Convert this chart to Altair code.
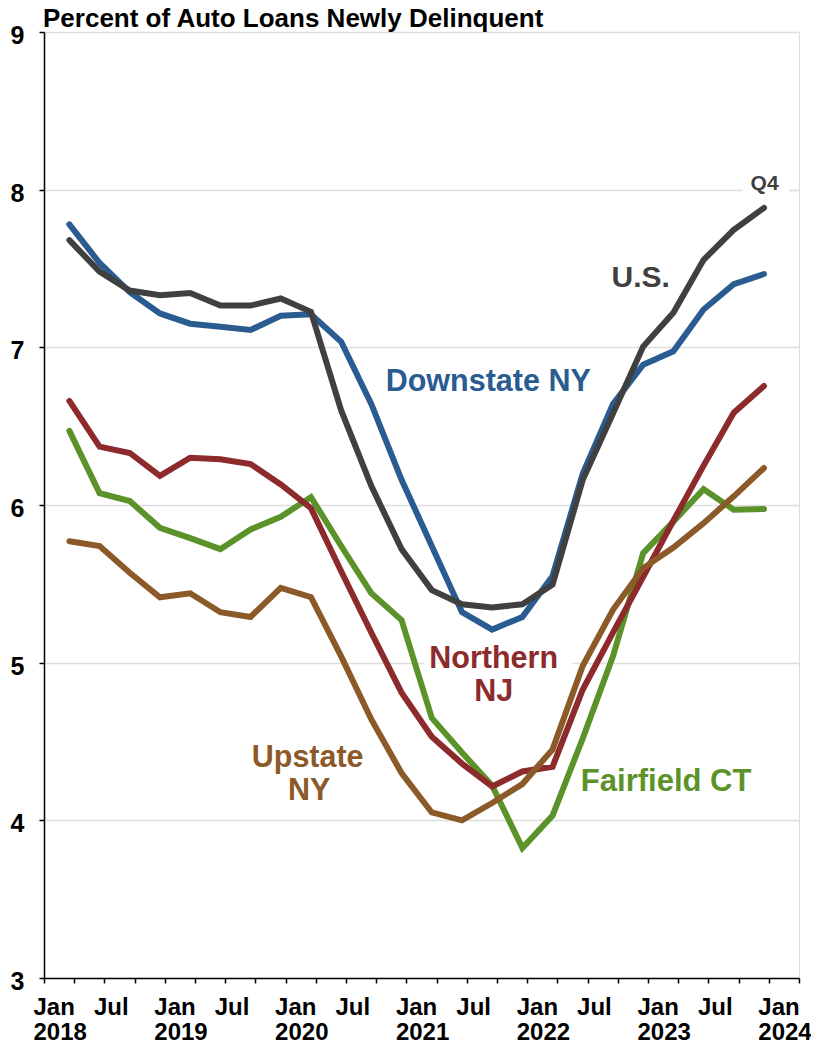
import json
import altair as alt
import pandas as pd

# ---------------- data ----------------
quarters = [f"{y}Q{q}" for y in range(2018, 2024) for q in range(1, 5)]

us = [7.68, 7.48, 7.36, 7.33, 7.345, 7.265, 7.265, 7.31, 7.225, 6.60, 6.12, 5.72,
      5.46, 5.37, 5.35, 5.37, 5.495, 6.16, 6.58, 7.005, 7.22, 7.555, 7.745, 7.885]
downstate_ny = [7.78, 7.535, 7.35, 7.215, 7.15, 7.13, 7.11, 7.20, 7.21, 7.035, 6.64, 6.16,
                5.74, 5.32, 5.21, 5.29, 5.55, 6.20, 6.64, 6.89, 6.975, 7.24, 7.40, 7.465]
northern_nj = [6.66, 6.37, 6.33, 6.185, 6.30, 6.29, 6.26, 6.13, 5.98, 5.58, 5.19, 4.81,
               4.53, 4.36, 4.215, 4.31, 4.34, 4.83, 5.19, 5.545, 5.90, 6.25, 6.585, 6.755]
fairfield_ct = [6.47, 6.075, 6.025, 5.855, 5.79, 5.72, 5.845, 5.925, 6.05, 5.74, 5.44, 5.27,
                4.65, 4.43, 4.22, 3.825, 4.03, 4.52, 5.04, 5.695, 5.895, 6.10, 5.97, 5.975]
upstate_ny = [5.77, 5.74, 5.57, 5.415, 5.44, 5.32, 5.29, 5.475, 5.415, 5.04, 4.64, 4.30,
              4.05, 4.00, 4.11, 4.23, 4.45, 4.98, 5.335, 5.60, 5.73, 5.885, 6.055, 6.235]

# drawing order: bottom first
series_names = ["Fairfield CT", "Northern NJ", "Upstate NY", "Downstate NY", "U.S."]
series_values = [fairfield_ct, northern_nj, upstate_ny, downstate_ny, us]
series_colors = ["#5B9229", "#8C2A2C", "#8C5A29", "#2A5C91", "#404040"]

x_tick_labels = [["Jan", "2018"], ["Jul"], ["Jan", "2019"], ["Jul"], ["Jan", "2020"], ["Jul"],
                 ["Jan", "2021"], ["Jul"], ["Jan", "2022"], ["Jul"], ["Jan", "2023"], ["Jul"],
                 ["Jan", "2024"]]
y_ticks = [3, 4, 5, 6, 7, 8, 9]

label_texts = ["Downstate NY", "U.S.", "Q4", "Northern", "NJ", "Upstate", "NY", "Fairfield CT"]
label_colors = ["#2A5C91", "#404040", "#404040", "#8C2A2C", "#8C2A2C", "#8C5A29", "#8C5A29", "#5B9229"]

title_text = "Percent of Auto Loans Newly Delinquent"

# ---------------- layout / positions ----------------
POINT_OFFSET = 0.84          # points sit late in each quarter slot
label_x = [14.71, 19.76, 23.86, 14.89, 14.89, 8.73, 8.78, 20.60]
label_y = [6.72, 7.385, 8.0, 4.969, 4.76, 4.336, 4.13, 4.183]
label_sizes = [30.5, 30, 21, 30.5, 30.5, 30.5, 30.5, 31]
# white patches that break grid lines behind labels
gap_x1 = [23.13, 12.6]
gap_x2 = [24.67, 17.5]
gap_y1 = [7.97, 4.97]
gap_y2 = [8.03, 5.03]

FONT = "Liberation Sans"

rows = []
for name, vals in zip(series_names, series_values):
    for i, v in enumerate(vals):
        rows.append({"series": name, "quarter": quarters[i], "q": i + POINT_OFFSET, "value": v})
df = pd.DataFrame(rows)

labels_df = pd.DataFrame({"text": label_texts, "x": label_x, "y": label_y,
                          "color": label_colors, "size": label_sizes})
gaps_df = pd.DataFrame({"x1": gap_x1, "x2": gap_x2, "y1": gap_y1, "y2": gap_y2})

x_scale = alt.Scale(domain=[0, 25], nice=False, zero=False)
y_scale = alt.Scale(domain=[3, 9], nice=False, zero=False)

label_expr = ("datum.value % 2 == 0 && datum.value <= 24 ? "
              + json.dumps(x_tick_labels) + "[datum.value / 2] : ''")

x_axis = alt.Axis(values=list(range(26)), labelExpr=label_expr, title=None, grid=False,
                  tickSize=5, tickColor="#000", tickWidth=1.5,
                  domainColor="#000", domainWidth=1.5,
                  labelAlign="left", labelOffset=-11, labelBaseline="top", labelPadding=12,
                  labelLineHeight=25.5, labelFontSize=24, labelFont=FONT,
                  labelFontWeight="bold", labelColor="#000",
                  labelOverlap=False, labelFlush=False)
y_axis = alt.Axis(values=y_ticks, title=None, grid=True, gridColor="#DDDDDD", gridWidth=1.5,
                  tickSize=5, tickColor="#000", tickWidth=1.5,
                  domainColor="#000", domainWidth=1.5,
                  labelPadding=15, labelFontSize=25, labelFont=FONT, labelFontWeight="bold",
                  labelColor="#000", labelOffset=3.5, labelOverlap=False, labelFlush=False)

base_x = alt.X("q:Q", scale=x_scale, axis=x_axis)
base_y = alt.Y("value:Q", scale=y_scale, axis=y_axis)

gaps = alt.Chart(gaps_df).mark_rect(fill="white").encode(
    x=alt.X("x1:Q", scale=x_scale, axis=x_axis), x2="x2:Q",
    y=alt.Y("y1:Q", scale=y_scale, axis=y_axis), y2="y2:Q")

line_layers = []
for name, color in zip(series_names, series_colors):
    line_layers.append(
        alt.Chart(df).transform_filter(alt.datum.series == name)
        .mark_line(strokeWidth=6, strokeCap="round", color=color)
        .encode(x=base_x, y=base_y, order="q:Q")
    )

labels = alt.Chart(labels_df).mark_text(font=FONT, fontWeight="bold", align="center",
                                        baseline="alphabetic").encode(
    x=alt.X("x:Q", scale=x_scale, axis=x_axis),
    y=alt.Y("y:Q", scale=y_scale, axis=y_axis),
    text="text:N",
    color=alt.Color("color:N", scale=None),
    size=alt.Size("size:Q", scale=None),
)

title = alt.Chart(pd.DataFrame({"t": [title_text]})).mark_text(
    font=FONT, fontWeight="bold", fontSize=26, align="left", baseline="alphabetic",
    color="#000").encode(x=alt.value(-1), y=alt.value(-5.5), text="t:N")

chart = alt.layer(gaps, *line_layers, labels, title).properties(
    width=755, height=946,
    autosize=alt.AutoSizeParams(type="none"),
    padding={"left": 36, "top": 24, "right": 12, "bottom": 69},
).configure_view(stroke="#000", strokeWidth=1.5).configure(background="white")

chart.save("out.html", embed_options={"renderer": "svg", "actions": False})
